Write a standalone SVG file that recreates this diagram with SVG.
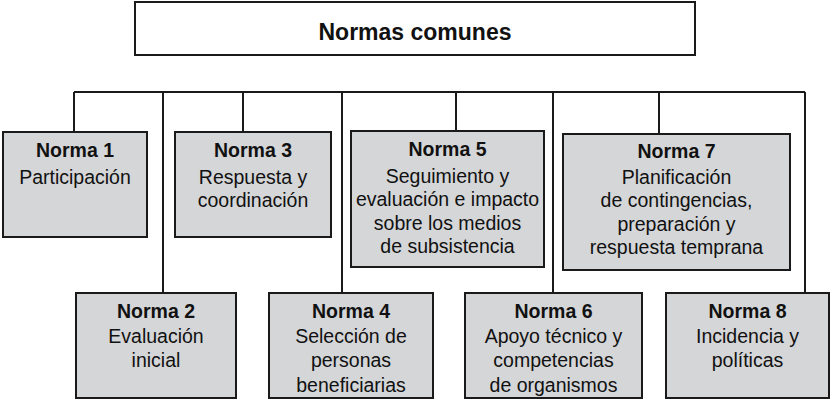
<svg xmlns="http://www.w3.org/2000/svg" width="832" height="400" viewBox="0 0 832 400">
<style>
.bg{fill:#ffffff}
.title{fill:#ffffff;stroke:#1a1a1a;stroke-width:2}
.box{fill:#d5d6d8;stroke:#1a1a1a;stroke-width:2}
.ln{fill:none;stroke:#1a1a1a;stroke-width:2}
text{font-family:"Liberation Sans",Arial,sans-serif;fill:#111;text-anchor:middle}
.t{font-size:23px;font-weight:bold}
.h{font-size:19.5px;font-weight:bold}
.b{font-size:19.5px}
</style>
<rect class="bg" x="0" y="0" width="832" height="400"/>
<g id="connectors">
<path class="ln" d="M74 92 H805"/>
<path class="ln" d="M74 92 V132"/>
<path class="ln" d="M163 92 V293"/>
<path class="ln" d="M243 92 V132"/>
<path class="ln" d="M342 92 V293"/>
<path class="ln" d="M456 92 V131"/>
<path class="ln" d="M553 92 V293"/>
<path class="ln" d="M659 92 V134"/>
<path class="ln" d="M805 92 V293"/>
</g>
<g id="normas-comunes">
<rect class="title" x="135" y="2" width="560" height="53"/>
<text class="t" x="415" y="40">Normas comunes</text>
</g>
<g id="norma1">
<rect class="box" x="3" y="132" width="144" height="105"/>
<text class="h" x="75" y="157">Norma 1</text>
<text class="b" x="75" y="184">Participación</text>
</g>
<g id="norma3">
<rect class="box" x="175" y="132" width="156" height="105"/>
<text class="h" x="253" y="157">Norma 3</text>
<text class="b" x="253" y="184">Respuesta y</text>
<text class="b" x="253" y="207">coordinación</text>
</g>
<g id="norma5">
<rect class="box" x="351" y="131" width="193" height="136"/>
<text class="h" x="447.5" y="156">Norma 5</text>
<text class="b" x="447.5" y="183">Seguimiento y</text>
<text class="b" x="447.5" y="206">evaluación e impacto</text>
<text class="b" x="447.5" y="230">sobre los medios</text>
<text class="b" x="447.5" y="253">de subsistencia</text>
</g>
<g id="norma7">
<rect class="box" x="563" y="134" width="227" height="136"/>
<text class="h" x="676.5" y="158">Norma 7</text>
<text class="b" x="676.5" y="184">Planificación</text>
<text class="b" x="676.5" y="207">de contingencias,</text>
<text class="b" x="676.5" y="231">preparación y</text>
<text class="b" x="676.5" y="254">respuesta temprana</text>
</g>
<g id="norma2">
<rect class="box" x="76" y="293" width="160" height="105"/>
<text class="h" x="156" y="318">Norma 2</text>
<text class="b" x="156" y="343">Evaluación</text>
<text class="b" x="156" y="367">inicial</text>
</g>
<g id="norma4">
<rect class="box" x="269" y="293" width="164" height="105"/>
<text class="h" x="351" y="318">Norma 4</text>
<text class="b" x="351" y="343">Selección de</text>
<text class="b" x="351" y="367">personas</text>
<text class="b" x="351" y="392">beneficiarias</text>
</g>
<g id="norma6">
<rect class="box" x="465" y="293" width="177" height="105"/>
<text class="h" x="553.5" y="318">Norma 6</text>
<text class="b" x="553.5" y="343">Apoyo técnico y</text>
<text class="b" x="553.5" y="367">competencias</text>
<text class="b" x="553.5" y="392">de organismos</text>
</g>
<g id="norma8">
<rect class="box" x="666" y="293" width="163" height="105"/>
<text class="h" x="747.5" y="318">Norma 8</text>
<text class="b" x="747.5" y="343">Incidencia y</text>
<text class="b" x="747.5" y="367">políticas</text>
</g>
</svg>
